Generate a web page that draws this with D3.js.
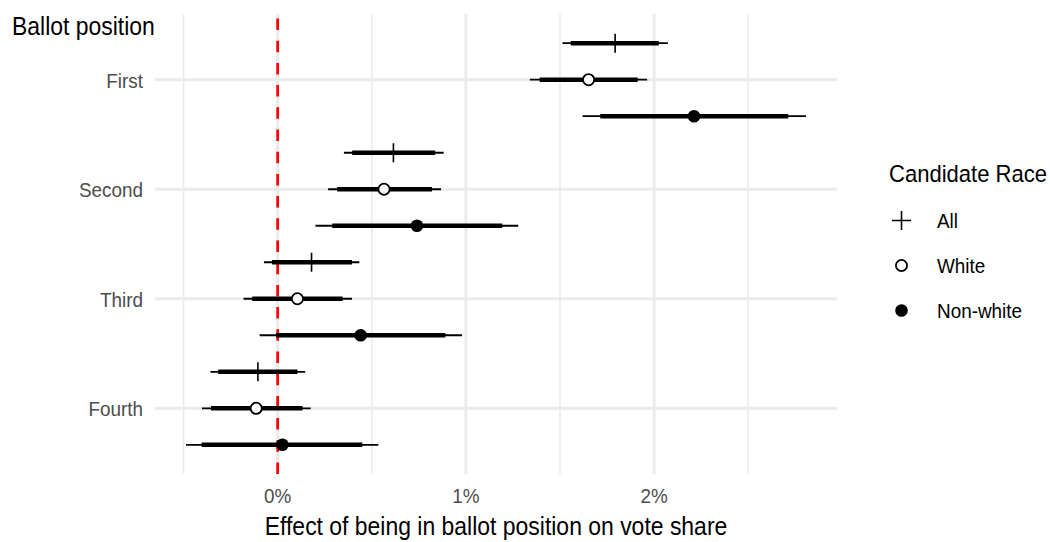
<!DOCTYPE html>
<html>
<head>
<meta charset="utf-8">
<script src="https://cdn.jsdelivr.net/npm/d3@7"></script>
<style>
  body { margin: 0; background: #fff; }
  text { font-family: "Liberation Sans", Arial, sans-serif; }
</style>
</head>
<body>
<div id="chart"></div>
<script>
// ballot positions (y categories) and race groups (legend)
var positions = ["First", "Second", "Third", "Fourth"];
var races = ["All", "White", "Non-white"];

// point estimates, % of vote share, one value per ballot position
var estAll = [1.793, 0.615, 0.180, -0.105];
var estWhite = [1.652, 0.565, 0.105, -0.114];
var estNonWhite = [2.212, 0.740, 0.441, 0.025];

// outer (thin) intervals
var lowAll = [1.513, 0.352, -0.073, -0.357];
var highAll = [2.073, 0.882, 0.434, 0.146];
var lowWhite = [1.340, 0.268, -0.181, -0.402];
var highWhite = [1.963, 0.868, 0.395, 0.176];
var lowNonWhite = [1.620, 0.201, -0.096, -0.487];
var highNonWhite = [2.807, 1.278, 0.980, 0.535];

// inner (thick) intervals
var innerLowAll = [1.557, 0.396, -0.030, -0.316];
var innerHighAll = [2.025, 0.837, 0.395, 0.105];
var innerLowWhite = [1.392, 0.316, -0.135, -0.354];
var innerHighWhite = [1.913, 0.820, 0.345, 0.132];
var innerLowNonWhite = [1.714, 0.290, -0.007, -0.404];
var innerHighNonWhite = [2.713, 1.193, 0.891, 0.450];

var majorTicks = [0, 1, 2];
var tickLabels = ["0%", "1%", "2%"];
var minorTicks = [-0.5, 0.5, 1.5, 2.5];

function init() {
    var w = 1050, h = 542;
    var left = 155, right = 837, top = 14, bottom = 474;

    var est = [estAll, estWhite, estNonWhite];
    var lo = [lowAll, lowWhite, lowNonWhite];
    var hi = [highAll, highWhite, highNonWhite];
    var ilo = [innerLowAll, innerLowWhite, innerLowNonWhite];
    var ihi = [innerHighAll, innerHighWhite, innerHighNonWhite];

    // flatten into rows for d3
    var rows = [];
    races.forEach(function(r, i) {
        positions.forEach(function(p, j) {
            rows.push({race: r, ri: i, pos: p, est: est[i][j], lo: lo[i][j], hi: hi[i][j], ilo: ilo[i][j], ihi: ihi[i][j]});
        });
    });

    var xmin = d3.min(rows, function(d) { return d.lo; });
    var xmax = d3.max(rows, function(d) { return d.hi; });
    var pad = (xmax - xmin) * 0.05;
    var x = d3.scaleLinear().domain([xmin - pad, xmax + pad]).range([left, right]);
    var y = d3.scalePoint().domain(positions).range([top, bottom]).padding(0.6);
    var dodge = d3.scalePoint().domain(races).range([-y.step() / 3, y.step() / 3]);

    var svg = d3.select("#chart").append("svg").attr("width", w).attr("height", h);

    // condensed-looking text: scale glyphs horizontally
    function label(g, tx, ty, str, size, anchor, fill) {
        return g.append("text")
            .attr("transform", "translate(" + tx + "," + ty + ") scale(0.9,1)")
            .attr("text-anchor", anchor)
            .attr("font-size", size)
            .attr("fill", fill)
            .text(str);
    }

    // gridlines
    svg.selectAll("line.minor").data(minorTicks).enter().append("line")
        .attr("x1", x).attr("x2", x).attr("y1", top).attr("y2", bottom)
        .attr("stroke", "#ebebeb").attr("stroke-width", 1.6);
    svg.selectAll("line.major").data(majorTicks).enter().append("line")
        .attr("x1", x).attr("x2", x).attr("y1", top).attr("y2", bottom)
        .attr("stroke", "#ebebeb").attr("stroke-width", 3);
    svg.selectAll("line.hgrid").data(positions).enter().append("line")
        .attr("x1", left).attr("x2", right).attr("y1", y).attr("y2", y)
        .attr("stroke", "#ebebeb").attr("stroke-width", 3);

    // reference line at zero
    svg.append("line")
        .attr("x1", x(0)).attr("x2", x(0)).attr("y1", bottom).attr("y2", top)
        .attr("stroke", "#ff0000").attr("stroke-width", 2.7)
        .attr("stroke-dasharray", "11.5,10.7");

    // axes labels
    majorTicks.forEach(function(t, i) {
        label(svg, x(t), 503, tickLabels[i], 21, "middle", "#4d4d4d");
    });
    positions.forEach(function(p) {
        label(svg, 143, y(p) + 8, p, 21, "end", "#4d4d4d");
    });
    label(svg, (left + right) / 2, 535, "Effect of being in ballot position on vote share", 25.5, "middle", "#000");
    label(svg, 12, 35, "Ballot position", 25.5, "start", "#000");

    // marks
    var g = svg.selectAll("g.est").data(rows).enter().append("g")
        .attr("class", "est")
        .attr("transform", function(d) { return "translate(0," + (y(d.pos) + dodge(d.race)) + ")"; });
    g.append("line")
        .attr("x1", function(d) { return x(d.lo); })
        .attr("x2", function(d) { return x(d.hi); })
        .attr("stroke", "#000").attr("stroke-width", 1.8);
    g.append("line")
        .attr("x1", function(d) { return x(d.ilo); })
        .attr("x2", function(d) { return x(d.ihi); })
        .attr("stroke", "#000").attr("stroke-width", 4.6);

    function drawShape(sel, ri, cx) {
        if (ri === 0) {
            sel.append("path")
                .attr("d", "M" + (cx - 9.5) + ",0H" + (cx + 9.5) + "M" + cx + ",-9.5V9.5")
                .attr("stroke", "#000").attr("stroke-width", 1.6).attr("fill", "none");
        } else if (ri === 1) {
            sel.append("circle").attr("cx", cx).attr("r", 5.6)
                .attr("fill", "#fff").attr("stroke", "#000").attr("stroke-width", 1.8);
        } else {
            sel.append("circle").attr("cx", cx).attr("r", 6.3).attr("fill", "#000");
        }
    }
    g.each(function(d) { drawShape(d3.select(this), d.ri, x(d.est)); });

    // legend
    var leg = svg.append("g");
    label(leg, 889, 182, "Candidate Race", 24.5, "start", "#000");
    races.forEach(function(r, i) {
        var ly = 220.5 + i * 45;
        var lg = leg.append("g").attr("transform", "translate(0," + ly + ")");
        drawShape(lg, i, 901.5);
        label(lg, 937, 7.5, r, 21, "start", "#000");
    });
}
window.onload = init;
</script>
</body>
</html>
